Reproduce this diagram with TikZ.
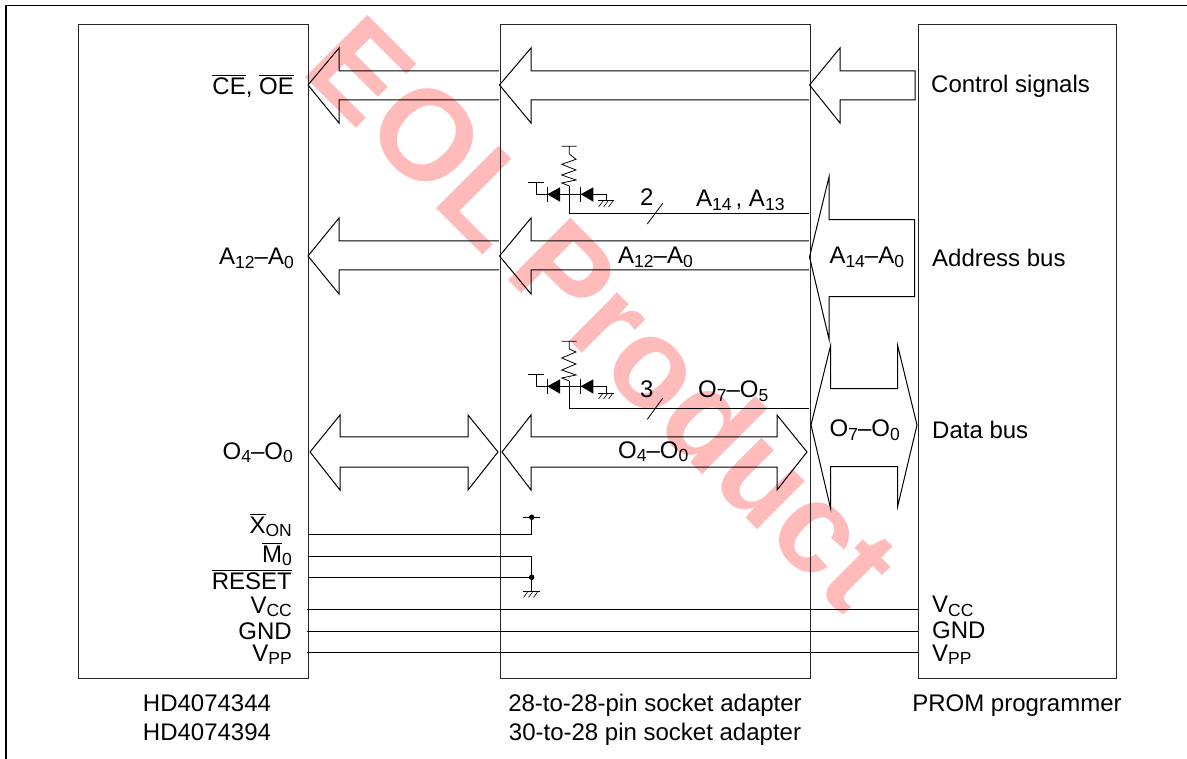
\documentclass[tikz,border=0pt]{standalone}
\usepackage{fontspec}
\setmainfont{Liberation Sans}
\newcommand{\ovl}[1]{\leavevmode\vbox{\hrule height 1pt\kern 1.6pt\hbox{#1}}}
\newcommand{\subs}[1]{\raisebox{-3.8pt}{\fontsize{17.5}{18}\selectfont #1}}
\tikzset{
  box/.style={draw=black!85,line width=1.1pt},
  bus/.style={draw=black,line width=1pt,line join=miter},
  wire/.style={draw=black,line width=1pt},
  sym/.style={draw=black,line width=0.8pt},
  hatch/.style={draw=black,line width=0.6pt},
  lab/.style={inner sep=0pt,font=\fontsize{24}{25}\selectfont},
  labr/.style={lab,anchor=base east},
  labl/.style={lab,anchor=base west},
  labc/.style={lab,anchor=base},
  dotn/.style={circle,fill=black,inner sep=0pt,minimum size=5.5pt},
}
\begin{document}
\begin{tikzpicture}[x=1pt,y=-1pt]
\useasboundingbox (0,0) rectangle (1187,759);
\fill[white] (0,0) rectangle (1187,759);
% watermark
\node[rotate=-45,inner sep=0pt,text=red!27,font=\fontsize{128}{128}\selectfont\bfseries] (wm) at (604.5,311.5) {EOL\hspace{24pt}Product};
% frame
\coordinate (f1) at (6,759); \coordinate (f2) at (6,5.5); \coordinate (f3) at (1187,5.5);
\draw[line width=1.2pt] (f1) -- (f2) -- (f3);
% boxes
\node[box,minimum width=230pt,minimum height=654pt,inner sep=0pt,anchor=north west] (hd) at (78,24) {};
\node[box,minimum width=310pt,minimum height=654pt,inner sep=0pt,anchor=north west] (ad) at (499.5,24) {};
\node[box,minimum width=198pt,minimum height=654pt,inner sep=0pt,anchor=north west] (pg) at (918,24) {};
% control bus
\draw[bus] (499,71) -- (339,71) -- (339,48) -- (308,85) -- (339,123) -- (339,100) -- (499,100);
\draw[bus] (809,71) -- (531,71) -- (531,48) -- (499.5,85) -- (531,123) -- (531,100) -- (809,100);
\draw[bus] (915,71) -- (840,71) -- (840,48) -- (809.5,85) -- (840,123) -- (840,100) -- (915,100) -- cycle;
% address bus
\draw[bus] (499,241) -- (339,241) -- (339,218) -- (308,256) -- (339,294) -- (339,270) -- (499,270);
\draw[bus] (809,241) -- (531,241) -- (531,218) -- (499.5,256) -- (531,294) -- (531,270) -- (809,270);
\draw[bus] (914.6,219.6) -- (829,219.6) -- (829,177) -- (809.5,257) -- (829,339) -- (829,296.6) -- (914.6,296.6) -- cycle;
% data bus
\draw[bus] (340,437) -- (468,437) -- (468,415) -- (498,452) -- (468,490) -- (468,467)
  -- (340,467) -- (340,490) -- (310,452) -- (340,415) -- cycle;
\draw[bus] (531,437) -- (777,437) -- (777,415) -- (807,452) -- (777,490) -- (777,467)
  -- (531,467) -- (531,490) -- (502,452) -- (531,415) -- cycle;
\draw[bus] (830.5,388.6) -- (897.5,388.6) -- (897.5,345) -- (917,425) -- (897.5,507) -- (897.5,466.6)
  -- (830.5,466.6) -- (830.5,508) -- (811,425) -- (830.5,346) -- cycle;
% upper clamp
\draw[sym] (561.7,146.3) -- (576.7,146.3) (569.3,146.3) -- (569.3,154) -- (576,159.3) -- (561.7,164.3) -- (576,170) -- (561.7,175) -- (576,180) -- (561.7,183) -- (569.3,186);
\draw[wire] (569.3,186) -- (569.3,213.3) -- (809,213.3);
\draw[sym] (528.3,182.3) -- (544,182.3) (536,182.3) -- (536,194.3) -- (606,194.3) -- (606,200.7) (547.3,187.3) -- (547.3,201.7) (580.7,187.3) -- (580.7,201.7) (598.3,200.7) -- (614,200.7);
\fill (547.3,194.3) -- (560,187.3) -- (560,201.7) -- cycle;
\fill (580.7,194.3) -- (593.3,187.3) -- (593.3,201.7) -- cycle;
\draw[hatch] (598.5,207) -- (603,201) (603.5,207) -- (608,201) (608.5,207) -- (613,201);
% lower clamp
\draw[sym] (561.7,341.3) -- (576.7,341.3) (569.3,341.3) -- (569.3,349) -- (576,352) -- (561.7,358) -- (576,364) -- (561.7,370) -- (576,375) -- (561.7,378) -- (569.3,381);
\draw[wire] (569.3,381) -- (569.3,408.3) -- (809,408.3);
\draw[sym] (528.3,374) -- (544,374) (536,374) -- (536,386.3) -- (606,386.3) -- (606,393) (547.3,379.3) -- (547.3,393.7) (580.7,379.3) -- (580.7,393.7) (598.3,393) -- (614,393);
\fill (547.3,386.3) -- (560,379.3) -- (560,393.7) -- cycle;
\fill (580.7,386.3) -- (593.3,379.3) -- (593.3,393.7) -- cycle;
\draw[hatch] (598.5,399) -- (603,393) (603.5,399) -- (608,393) (608.5,399) -- (613,393);
% slashes
\draw[sym] (647.3,224) -- (662.7,203.3);
\draw[sym] (647.3,419.3) -- (662.7,398.3);
% control wires
\node[dotn] (d1) at (531.7,517.3) {};
\node[dotn] (d2) at (531.7,577.3) {};
\draw[wire] (308,534.7) -- (531.7,534.7) -- (d1);
\draw[sym] (523,517.3) -- (540,517.3);
\draw[wire] (308,556) -- (531.7,556) -- (531.7,591.7);
\draw[wire] (308,577.3) -- (d2);
\draw[sym] (523,591.7) -- (539.5,591.7);
\draw[hatch] (523.5,597.5) -- (527.5,592) (528.5,597.5) -- (532.5,592) (533.5,597.5) -- (537.5,592);
% power lines
\draw[wire] (306.5,609.3) -- (918,609.3);
\draw[wire] (306.5,631) -- (918,631);
\draw[wire] (306.5,652.3) -- (918,652.3);
% left labels
\node[labr] (l1) at (294,94.3) {\ovl{CE}, \ovl{OE}};
\node[labr] (l2) at (294,265) {A\subs{12}–A\subs{0}};
\node[labr] (l3) at (293,459) {O\subs{4}–O\subs{0}};
\node[labr] (l4) at (292,533) {\ovl{X}\subs{ON}};
\node[labr] (l5) at (292,562) {\ovl{M}\subs{0}};
\node[labr] (l6) at (292,589) {\ovl{RESET}};
\node[labr] (l7) at (292,613) {V\subs{CC}};
\node[labr] (l8) at (292,639) {GND};
\node[labr] (l9) at (292,661) {V\subs{PP}};
% middle labels
\node[labc] (m1) at (646.7,205.5) {2};
\node[labl] (m2) at (696,206.7) {A\subs{14}\,, A\subs{13}};
\node[labl] (m3) at (618,263.3) {A\subs{12}–A\subs{0}};
\node[labc] (m4) at (646.7,397.7) {3};
\node[labl] (m5) at (698,398) {O\subs{7}–O\subs{5}};
\node[labl] (m6) at (618,458) {O\subs{4}–O\subs{0}};
% right labels
\node[labl] (r1) at (829.3,263.3) {A\subs{14}–A\subs{0}};
\node[labl] (r2) at (829.5,437) {O\subs{7}–O\subs{0}};
\node[labl] (r3) at (931,93) {Control signals};
\node[labl] (r4) at (932,266.5) {Address bus};
\node[labl] (r5) at (932,438.5) {Data bus};
\node[labl] (r6) at (932,612.5) {V\subs{CC}};
\node[labl] (r7) at (932,638) {GND};
\node[labl] (r8) at (932,661) {V\subs{PP}};
% captions
\node[labc] (c1) at (207,711) {HD4074344};
\node[labc] (c2) at (207,740) {HD4074394};
\node[labc] (c3) at (655,711) {28-to-28-pin socket adapter};
\node[labc] (c4) at (655,740) {30-to-28 pin socket adapter};
\node[labc] (c5) at (1017,711) {PROM programmer};
\end{tikzpicture}
\end{document}
